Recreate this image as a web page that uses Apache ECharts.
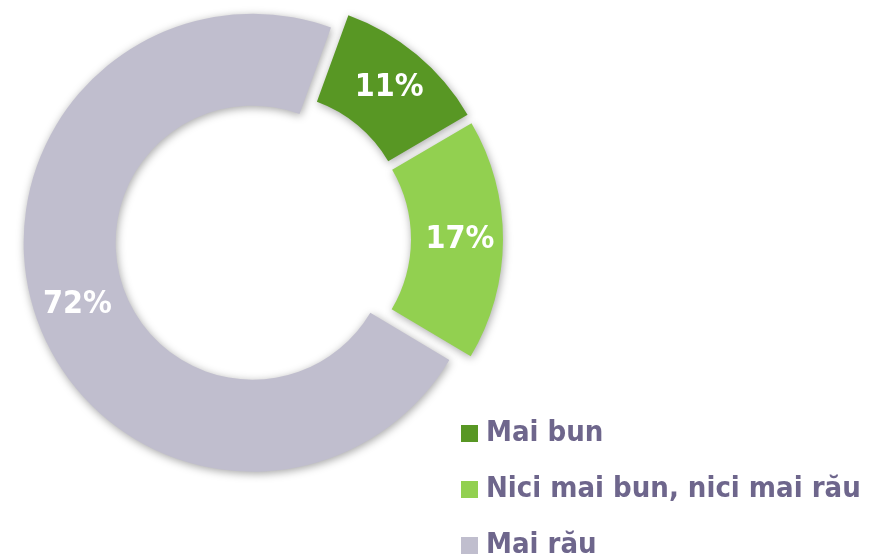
<!DOCTYPE html>
<html>
<head>
<meta charset="utf-8">
<script src="https://cdn.jsdelivr.net/npm/echarts@6/dist/echarts.min.js"></script>
<style>html,body{margin:0;padding:0;background:#fff;}#c{width:882px;height:559px;}</style>
</head>
<body>
<div id="c"></div>
<script>
var categories = ['Mai bun', 'Nici mai bun, nici mai rău', 'Mai rău'];
var values = [11, 17, 72];
var colors = ['#589724', '#92D050', '#C0BECE'];

var chart = echarts.init(document.getElementById('c'), null, {renderer: 'canvas'});
var data = categories.map(function (n, i) {
  return { name: n, value: values[i], selected: true, itemStyle: { color: colors[i] } };
});
chart.setOption({
  animation: false,
  backgroundColor: '#fff',
  legend: {
    orient: 'vertical',
    left: 461, top: 419,
    width: 420, height: 200,
    padding: 0,
    itemWidth: 17, itemHeight: 17, itemGap: 27,
    icon: 'rect',
    selectedMode: false,
    data: categories,
    textStyle: { fontFamily: '"DejaVu Sans Condensed", "DejaVu Sans", sans-serif', fontWeight: 'bold', fontSize: 29, color: '#6E668C', lineHeight: 29, padding: [0, 0, 0, 3] }
  },
  series: [{
    type: 'pie',
    center: [263, 239],
    radius: [137, 229],
    startAngle: 70,
    clockwise: true,
    selectedMode: 'multiple',
    selectedOffset: 11,
    avoidLabelOverlap: false,
    emphasis: { disabled: true },
    itemStyle: { shadowBlur: 8, shadowColor: 'rgba(0,0,0,0.35)', shadowOffsetX: 1, shadowOffsetY: 2 },
    label: {
      show: true, position: 'inside',
      formatter: function (p) { return p.value + '%'; },
      color: '#fff', fontWeight: 'bold', fontSize: 32,
      fontFamily: '"DejaVu Sans Condensed", "DejaVu Sans", sans-serif'
    },
    labelLine: { show: false },
    data: data
  }]
});
</script>
</body>
</html>
